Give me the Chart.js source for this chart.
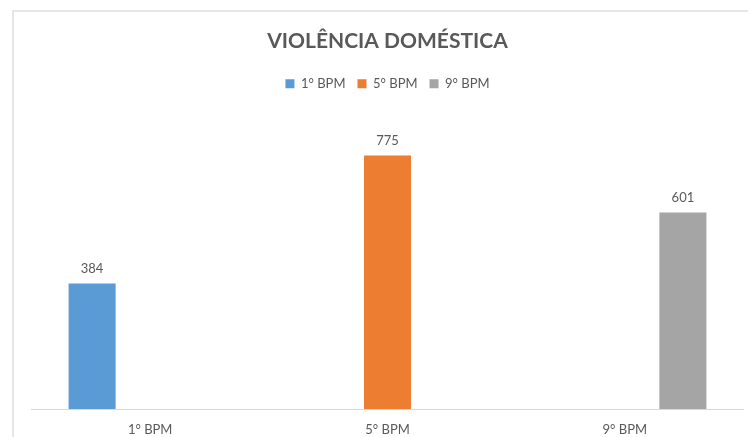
<!DOCTYPE html>
<html>
<head>
<meta charset="utf-8">
<script src="https://cdn.jsdelivr.net/npm/chart.js@4/dist/chart.umd.min.js"></script>
<style>
    body { margin: 0; background: #fff; overflow: hidden; }
    .wrap { position: relative; width: 748px; height: 437px; }
    .frame {
        position: absolute; left: 12px; top: 10px;
        width: 760px; height: 460px;
        border: 2px solid #e6e6e6; box-sizing: border-box;
    }
    canvas { position: absolute; left: 0; top: 0; }
</style>
</head>
<body>
<div class="wrap">
    <div class="frame"></div>
    <canvas id="chart" width="748" height="437"></canvas>
</div>
<script>
// ========== DATA ==========
const categories = ['1° BPM', '5° BPM', '9° BPM'];
const seriesNames = ['1° BPM', '5° BPM', '9° BPM'];
const bpm1Values = [384, null, null];
const bpm5Values = [null, 775, null];
const bpm9Values = [null, null, 601];

const colors = {
    blue: '#5b9bd5',
    orange: '#ed7d31',
    gray: '#a5a5a5',
    text: '#595959',
    axis: '#d9d9d9'
};
const fontFamily = 'Lato, "Open Sans", sans-serif';

// ========== VALUE LABELS ==========
const valueLabels = {
    id: 'valueLabels',
    afterDatasetsDraw(chart) {
        const ctx = chart.ctx;
        ctx.save();
        ctx.font = '13px ' + fontFamily;
        ctx.fillStyle = colors.text;
        ctx.textAlign = 'center';
        ctx.textBaseline = 'bottom';
        chart.data.datasets.forEach((ds, i) => {
            chart.getDatasetMeta(i).data.forEach((bar, j) => {
                const v = ds.data[j];
                if (v === null || v === undefined) return;
                ctx.fillText(String(v), bar.x, bar.y - 8);
            });
        });
        ctx.restore();
    }
};

new Chart(document.getElementById('chart'), {
    type: 'bar',
    data: {
        labels: categories,
        datasets: [
            { label: seriesNames[0], data: bpm1Values, backgroundColor: colors.blue },
            { label: seriesNames[1], data: bpm5Values, backgroundColor: colors.orange },
            { label: seriesNames[2], data: bpm9Values, backgroundColor: colors.gray }
        ]
    },
    options: {
        responsive: false,
        animation: false,
        devicePixelRatio: 1,
        barPercentage: 0.81,
        categoryPercentage: 0.734,
        layout: {
            padding: { left: 31.5, right: 4.5, top: 0, bottom: -13.6 }
        },
        plugins: {
            title: {
                display: true,
                text: 'VIOLÊNCIA DOMÉSTICA',
                color: colors.text,
                font: { family: fontFamily, size: 21, weight: 'bold' },
                padding: { top: 29, bottom: 11 }
            },
            legend: {
                display: true,
                labels: {
                    color: colors.text,
                    font: { family: fontFamily, size: 13 },
                    boxWidth: 9,
                    boxHeight: 9,
                    padding: 12
                }
            },
            tooltip: { enabled: false }
        },
        scales: {
            x: {
                grid: { display: false, drawTicks: false },
                border: { display: true, color: colors.axis, width: 1 },
                ticks: {
                    color: colors.text,
                    font: { family: fontFamily, size: 13 },
                    padding: 13
                }
            },
            y: {
                display: false,
                min: 0,
                max: 944
            }
        }
    },
    plugins: [valueLabels]
});
</script>
</body>
</html>
